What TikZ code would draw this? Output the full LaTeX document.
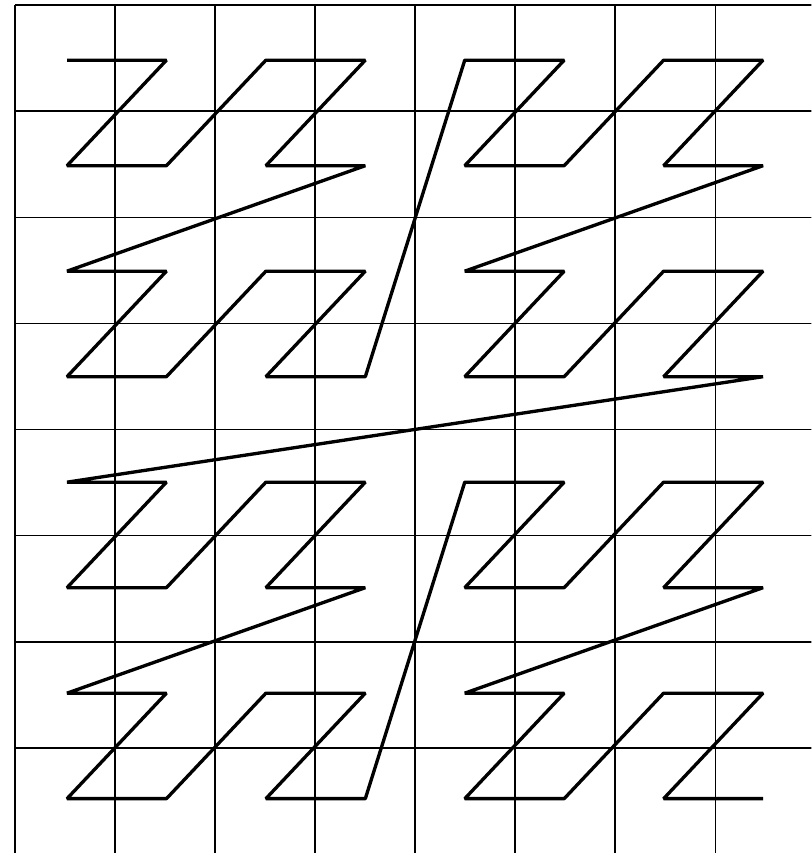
\documentclass[tikz,border=0pt]{standalone}
\begin{document}
\begin{tikzpicture}[x=1cm,y=-1.061cm]
\useasboundingbox (-0.15,-0.047) rectangle (7.96,7.99);
\clip (-0.15,-0.047) rectangle (7.96,7.99);
\foreach \k in {0,...,8} {
  \draw[line width=0.4pt] (\k,0) -- (\k,8);
  \draw[line width=0.4pt] (0,\k) -- (8,\k);
}
\foreach \i in {0,...,63} {
  \pgfmathsetmacro{\zx}{mod(\i,2)+2*mod(floor(\i/4),2)+4*mod(floor(\i/16),2)}
  \pgfmathsetmacro{\zy}{mod(floor(\i/2),2)+2*mod(floor(\i/8),2)+4*mod(floor(\i/32),2)}
  \coordinate (z\i) at ({0.52+0.994*\zx},{0.52+0.994*\zy});
}
\draw[line width=0.95pt,line join=bevel] (z0) \foreach \i in {1,...,63} {-- (z\i)};
\end{tikzpicture}
\end{document}
